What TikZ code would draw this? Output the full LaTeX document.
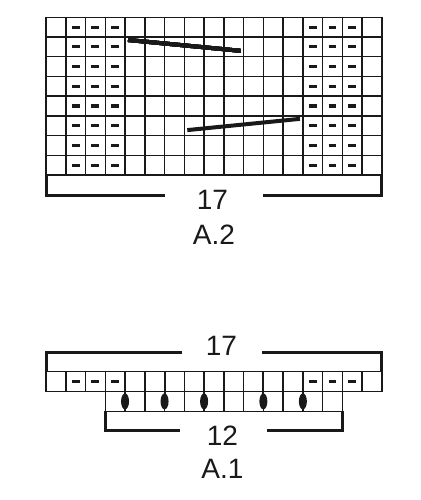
\documentclass[tikz,border=0pt]{standalone}
\usepackage{fontspec}
\setmainfont{Liberation Sans}
\usetikzlibrary{calc,positioning}
\tikzset{
  grid line/.style={line width=1.5pt,draw=black!90},
  purl/.style={line width=3.2pt,draw=black!90},
  cable/.style={line width=4pt,draw=black!90},
  bracket/.style={line width=3pt,draw=black!90},
  stem/.style={line width=2pt,draw=black!90},
  numtxt/.style={inner sep=0pt,text=black!90,font=\fontsize{28}{30}\selectfont}
}
\newcommand{\purlrow}[1]{% dashes of one row
  \foreach \c in {1,2,3,13,14,15}
    \draw[purl] (\c+0.3,#1+0.5) -- (\c+0.7,#1+0.5);}

\begin{document}
\begin{tikzpicture}[x=1pt,y=-1pt]
\useasboundingbox (0,0) rectangle (420,500);
% chart A.2
\begin{scope}[shift={(46pt,-17.3pt)},x=19.76pt,y=-19.72pt]
  \foreach \c in {0,...,17} \draw[grid line] (\c,0) -- (\c,8);
  \foreach \r in {0,...,8} \draw[grid line] (0,\r) -- (17,\r);
  \foreach \r in {0,...,7} \purlrow{\r}
  % cables
  \draw[cable] (4.15,1.15) -- (9.85,1.7);
  \draw[cable] (7.15,5.72) -- (12.85,5.15);
  \coordinate (a2bl) at (0,8);
  \coordinate (a2br) at (17,8);
\end{scope}
% bracket A.2
\draw[bracket] (a2bl) -- ++(0,20) -- ++(119,0);
\draw[bracket] (a2br) -- ++(0,20) -- ++(-119,0);
\node[numtxt] (a2num) at (212.5,200) {17};
\node[numtxt,below=15pt of a2num,xshift=1.5pt] (a2name) {A.2};

% chart A.1
\begin{scope}[shift={(46pt,-371.7pt)},x=19.76pt,y=-19.8pt]
  \foreach \c in {0,...,17} \draw[grid line] (\c,0) -- (\c,1);
  \foreach \r in {0,1} \draw[grid line] (0,\r) -- (17,\r);
  \foreach \c in {3,...,15} \draw[grid line] (\c,1) -- (\c,2);
  \draw[grid line] (3,2) -- (15,2);
  \purlrow{0}
  % yarn overs
  \foreach \c in {4,6,8,11,13}{
    \draw[stem] (\c,0) -- (\c,1.5);
    \fill[black!90] (\c,1.5) ellipse [x radius=4pt,y radius=8pt];
  }
  \coordinate (a1tl) at (0,0);
  \coordinate (a1tr) at (17,0);
  \coordinate (a1bl) at (3,2);
  \coordinate (a1br) at (15,2);
\end{scope}
% brackets A.1
\draw[bracket] (a1tl) -- ++(0,-19.7) -- ++(135.7,0);
\draw[bracket] (a1tr) -- ++(0,-19.7) -- ++(-120,0);
\node[numtxt] (a1top) at (221.5,346) {17};
\draw[bracket] (a1bl) -- ++(0,19.2) -- ++(74.7,0);
\draw[bracket] (a1br) -- ++(0,19.2) -- ++(-75.4,0);
\node[numtxt] (a1num) at (222.5,436) {12};
\node[numtxt,below=13pt of a1num] (a1name) {A.1};
\end{tikzpicture}
\end{document}
